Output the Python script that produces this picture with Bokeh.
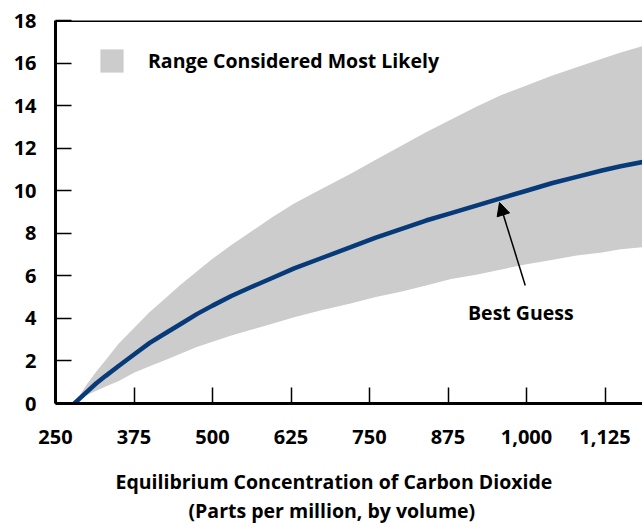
from bokeh.plotting import figure
from bokeh.models import (ColumnDataSource, FixedTicker, Range1d, Span, Label, Title,
                          Arrow, NormalHead, Legend, LegendItem, CustomJSTickFormatter)
from bokeh.embed import file_html
from bokeh.resources import INLINE

# Data
concentration = [280, 290, 300, 315, 330, 350, 375, 400, 425, 450, 475, 500, 530, 560, 595,
                 630, 675, 720, 760, 800, 840, 880, 920, 960, 1000, 1040, 1080, 1120, 1150, 1185]
best_guess    = [0, 0.28, 0.55, 0.95, 1.3, 1.75, 2.3, 2.85, 3.3, 3.75, 4.2, 4.6, 5.05, 5.45, 5.9,
                 6.35, 6.85, 7.35, 7.8, 8.2, 8.6, 8.95, 9.3, 9.65, 10.0, 10.35, 10.65, 10.95, 11.15, 11.35]
upper_bound   = [0, 0.45, 0.9, 1.5, 2.05, 2.8, 3.55, 4.3, 4.95, 5.6, 6.2, 6.8, 7.45, 8.05, 8.75,
                 9.4, 10.1, 10.8, 11.45, 12.1, 12.75, 13.35, 13.95, 14.5, 14.95, 15.4, 15.8, 16.2, 16.5, 16.8]
lower_bound   = [0, 0.2, 0.4, 0.6, 0.8, 1.05, 1.45, 1.75, 2.05, 2.35, 2.65, 2.9, 3.2, 3.45, 3.75,
                 4.05, 4.4, 4.7, 5.0, 5.25, 5.55, 5.85, 6.05, 6.3, 6.55, 6.75, 6.95, 7.1, 7.25, 7.35]

x_ticks = [250, 375, 500, 625, 750, 875, 1000, 1125]
y_ticks = [0, 2, 4, 6, 8, 10, 12, 14, 16, 18]

legend_label = "Range Considered Most Likely"
annot_label = "Best Guess"
x_title_1 = "Equilibrium Concentration of Carbon Dioxide"
x_title_2 = "(Parts per million, by volume)"

FONT = "Open Sans"
NAVY = "#073a78"
GREY = "#cccccc"

src = ColumnDataSource(dict(x=concentration, y=best_guess, hi=upper_bound, lo=lower_bound))

p = figure(width=642, height=523, output_backend="svg", toolbar_location=None,
           x_range=Range1d(250, 1184.7), y_range=Range1d(0, 18),
           min_border_left=55, min_border_right=0, min_border_top=20, min_border_bottom=120)
p.outline_line_color = None
p.grid.visible = False
p.background_fill_color = "white"
p.border_fill_color = "white"

band = p.varea(x="x", y1="lo", y2="hi", source=src, fill_color=GREY, fill_alpha=1.0)
p.line(x="x", y="y", source=src, line_color=NAVY, line_width=4.5, line_cap="round")

for ax in (p.xaxis[0], p.yaxis[0]):
    ax.axis_line_width = 3
    ax.axis_line_color = "black"
    ax.major_tick_in = 16
    ax.major_tick_out = 0
    ax.major_tick_line_width = 1.5
    ax.major_tick_line_color = "black"
    ax.minor_tick_line_color = None
    ax.major_label_text_font = FONT
    ax.major_label_text_font_style = "bold"
    ax.major_label_text_font_size = "20px"
    ax.major_label_text_color = "black"

p.xaxis.ticker = FixedTicker(ticks=x_ticks)
p.yaxis.ticker = FixedTicker(ticks=y_ticks)
p.xaxis.major_label_standoff = 26
p.yaxis.major_label_standoff = 19
p.xaxis.formatter = CustomJSTickFormatter(code="return tick.toLocaleString('en-US');")

p.add_layout(Span(location=18, dimension="width", line_color="black", line_width=3))

legend = Legend(items=[LegendItem(label=legend_label, renderers=[band])],
                location=(42, 328), orientation="vertical",
                glyph_width=29, glyph_height=29, label_standoff=22,
                label_text_font=FONT, label_text_font_style="bold",
                label_text_font_size="19.5px", label_text_color="black",
                label_height=29,
                border_line_color=None, background_fill_alpha=0,
                padding=0, margin=0)
p.add_layout(legend)

p.add_layout(Arrow(end=NormalHead(size=13, fill_color="black", line_color="black"),
                   x_start=998, y_start=5.55, x_end=957, y_end=9.45,
                   line_color="black", line_width=1.5))

p.add_layout(Label(x=991, y=4.3, text=annot_label, text_font=FONT,
                   text_font_style="bold", text_font_size="19.5px",
                   text_align="center", text_baseline="middle", text_color="black"))

spacer = Title(text=" ", text_font=FONT, text_font_size="12.5px", standoff=0)
t1 = Title(text=x_title_1, align="left", offset=60, text_font=FONT,
           text_font_style="bold", text_font_size="19.5px", text_color="black",
           text_line_height=0.85, standoff=0)
t2 = Title(text=x_title_2, align="left", offset=133, text_font=FONT,
           text_font_style="bold", text_font_size="19.5px", text_color="black",
           text_line_height=0.85, standoff=0)
p.add_layout(spacer, "below")
p.add_layout(t1, "below")
p.add_layout(t2, "below")

open("out.html", "w").write(file_html(p, INLINE))
